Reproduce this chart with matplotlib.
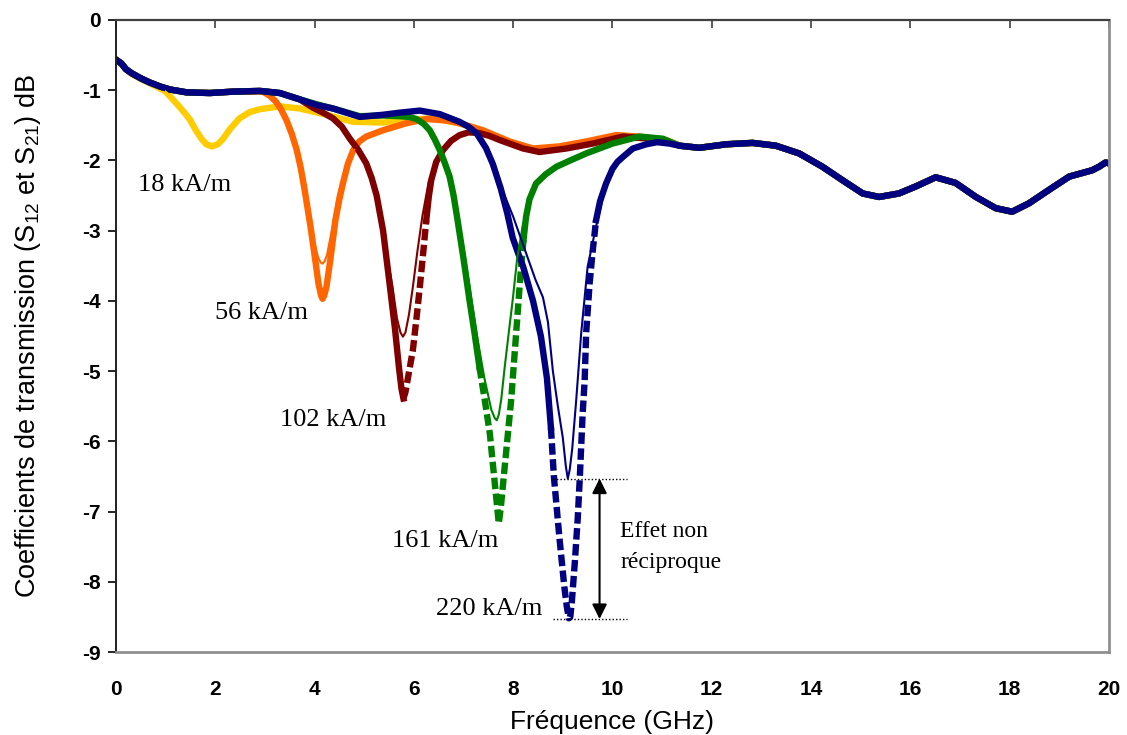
import numpy as np
import matplotlib
matplotlib.use("Agg")
import matplotlib.pyplot as plt

plt.rcParams['font.family'] = ['Liberation Sans', 'DejaVu Sans']
plt.rcParams['mathtext.fontset'] = 'custom'
plt.rcParams['mathtext.rm'] = 'Liberation Sans'
plt.rcParams['mathtext.it'] = 'Liberation Sans'
plt.rcParams['axes.unicode_minus'] = False

# shared start of the measured curves (GHz, dB)
head_x = [0.03, 0.11, 0.2, 0.32, 0.5, 0.68, 0.9, 1.09, 1.42, 1.89, 2.36, 2.9]
head_y = [-0.58, -0.62, -0.7, -0.76, -0.83, -0.89, -0.95, -0.99, -1.03, -1.04,
          -1.02, -1.01]

# common part above 11 GHz (all fields overlap)
tail_x = [11.35, 11.75, 12.29, 12.82, 13.29, 13.76, 14.23, 14.63, 15.04, 15.37,
          15.77, 16.11, 16.51, 16.91, 17.32, 17.72, 18.05, 18.39, 18.79, 19.2,
          19.66, 19.8, 19.93, 20.0]
tail_y = [-1.79, -1.82, -1.77, -1.75, -1.79, -1.90, -2.09, -2.28, -2.47, -2.52,
          -2.47, -2.37, -2.24, -2.32, -2.52, -2.68, -2.73, -2.61, -2.42, -2.23,
          -2.14, -2.09, -2.03, -2.04]

# 18 kA/m
s12_18_x = [0.03, 0.11, 0.2, 0.32, 0.5, 0.68, 0.85, 1.0, 1.22, 1.38, 1.49, 1.6,
            1.72, 1.82, 1.93, 2.05, 2.16, 2.3, 2.49, 2.7, 2.9, 3.3, 3.7, 4.24,
            4.78, 5.38, 5.92, 6.39, 6.9, 7.4, 7.93, 8.4, 8.93, 9.47, 10.07,
            10.54, 11.08]
s12_18_y = [-0.58, -0.62, -0.7, -0.77, -0.84, -0.9, -0.96, -1.02, -1.19, -1.32,
            -1.42, -1.56, -1.69, -1.77, -1.80, -1.77, -1.69, -1.55, -1.40, -1.31,
            -1.27, -1.23, -1.26, -1.35, -1.45, -1.46, -1.42, -1.40, -1.47, -1.58,
            -1.74, -1.84, -1.81, -1.74, -1.65, -1.67, -1.72]
s21_18_x = [1.0, 1.25, 1.5, 1.73, 1.84, 1.95, 2.06, 2.17, 2.5, 2.9]
s21_18_y = [-1.02, -1.2, -1.42, -1.67, -1.75, -1.77, -1.74, -1.67, -1.39, -1.26]

# 56 kA/m
s12_56_x = [2.96, 3.1, 3.23, 3.33, 3.43, 3.54, 3.64, 3.72, 3.80, 3.92, 4.02, 4.08,
            4.13, 4.16, 4.19, 4.24, 4.32, 4.42, 4.5, 4.57, 4.67, 4.78, 4.9, 5.04,
            5.38, 5.85, 6.25, 6.65, 6.92, 7.39, 7.93, 8.40, 8.93, 9.47, 10.07,
            10.54, 11.08]
s12_56_y = [-1.02, -1.08, -1.17, -1.28, -1.42, -1.62, -1.85, -2.1, -2.42, -2.95,
            -3.45, -3.76, -3.92, -3.97, -3.93, -3.8, -3.4, -2.85, -2.55, -2.33,
            -2.05, -1.85, -1.73, -1.66, -1.57, -1.47, -1.41, -1.43, -1.47, -1.57,
            -1.73, -1.83, -1.80, -1.73, -1.64, -1.66, -1.71]
s21_56_x = [3.5, 3.7, 3.85, 3.97, 4.07, 4.12, 4.16, 4.2, 4.25, 4.36, 4.47, 4.6,
            4.8]
s21_56_y = [-1.5, -2.0, -2.6, -3.1, -3.38, -3.45, -3.47, -3.44, -3.35, -2.95,
            -2.5, -2.15, -1.85]

# 102 kA/m
s12_102_x = [3.3, 3.7, 3.97, 4.17, 4.37, 4.55, 4.71, 4.88, 5.04, 5.15, 5.25,
             5.38, 5.51, 5.62, 5.70, 5.75, 5.79, 5.83, 5.88, 5.98, 6.06, 6.12,
             6.19, 6.25, 6.3, 6.35, 6.45, 6.59, 6.75, 6.92, 7.1, 7.32, 7.52,
             7.73, 8.2, 8.53, 9.07, 9.6, 10.21, 10.74, 11.1]
s12_102_y = [-1.04, -1.13, -1.25, -1.32, -1.40, -1.52, -1.69, -1.85, -2.04,
             -2.25, -2.5, -3.0, -3.75, -4.4, -4.95, -5.25, -5.39, -5.3, -5.1,
             -4.7, -4.2, -3.80, -3.3, -2.85, -2.52, -2.28, -2.02, -1.85, -1.72,
             -1.64, -1.6, -1.61, -1.65, -1.71, -1.83, -1.88, -1.83, -1.76, -1.66,
             -1.69, -1.74]
s21_102_x = [5.2, 5.35, 5.47, 5.57, 5.66, 5.73, 5.78, 5.83, 5.9, 5.98, 6.07,
             6.17, 6.3]
s21_102_y = [-2.3, -2.8, -3.4, -3.8, -4.25, -4.45, -4.51, -4.45, -4.2, -3.8,
             -3.3, -2.8, -2.3]

# 161 kA/m
s12_161_x = [3.3, 3.7, 4.04, 4.37, 4.91, 5.37, 5.71, 5.9, 6.05, 6.2, 6.32, 6.42,
             6.52, 6.62, 6.72, 6.8, 6.88, 7.0, 7.12, 7.22, 7.32, 7.43, 7.53,
             7.63, 7.68, 7.71, 7.75, 7.83, 7.96, 8.06, 8.16, 8.21, 8.26, 8.33,
             8.46, 8.65, 8.87, 9.15, 9.47, 10.0, 10.54, 11.01]
s12_161_y = [-1.04, -1.13, -1.2, -1.26, -1.37, -1.36, -1.37, -1.38, -1.41, -1.48,
             -1.57, -1.7, -1.85, -2.03, -2.23, -2.5, -2.85, -3.4, -3.99, -4.45,
             -4.94, -5.42, -5.89, -6.6, -6.95, -7.17, -6.95, -6.36, -5.41, -4.46,
             -3.51, -3.12, -2.80, -2.55, -2.33, -2.2, -2.09, -2.0, -1.90, -1.76,
             -1.66, -1.69]
s21_161_x = [6.6, 6.8, 6.95, 7.1, 7.26, 7.42, 7.56, 7.63, 7.67, 7.71, 7.76, 7.83,
             7.92, 7.99, 8.08, 8.2]
s21_161_y = [-2.0, -2.5, -3.05, -3.7, -4.46, -5.1, -5.55, -5.67, -5.70, -5.62,
             -5.4, -4.94, -4.4, -3.99, -3.4, -2.9]

# 220 kA/m
s12_220_x = [3.3, 3.7, 4.04, 4.37, 4.91, 5.37, 5.71, 6.12, 6.52, 6.92, 7.1, 7.26,
             7.45, 7.59, 7.75, 7.88, 7.99, 8.1, 8.2, 8.4, 8.56, 8.68, 8.76, 8.82,
             8.93, 9.03, 9.08, 9.12, 9.15, 9.18, 9.24, 9.30, 9.34, 9.40, 9.44,
             9.47, 9.54, 9.6, 9.67, 9.75, 9.87, 10.0, 10.1, 10.21, 10.41, 10.68,
             10.9, 11.15]
s12_220_y = [-1.04, -1.13, -1.21, -1.26, -1.38, -1.35, -1.32, -1.29, -1.34,
             -1.45, -1.52, -1.61, -1.82, -2.05, -2.4, -2.75, -3.1, -3.32, -3.51,
             -4.0, -4.51, -5.1, -5.8, -6.5, -7.36, -8.07, -8.35, -8.52, -8.5,
             -8.3, -7.74, -7.1, -6.55, -5.6, -5.13, -4.46, -3.75, -3.3, -2.85,
             -2.58, -2.33, -2.12, -2.02, -1.95, -1.83, -1.77, -1.74, -1.76]
s21_220_x = [7.6, 7.8, 8.0, 8.26, 8.45, 8.6, 8.7, 8.8, 8.9, 9.0, 9.06, 9.1, 9.14,
             9.19, 9.27, 9.37, 9.5, 9.67, 9.85]
s21_220_y = [-2.05, -2.45, -2.8, -3.32, -3.7, -3.95, -4.3, -5.0, -5.5, -5.95,
             -6.35, -6.53, -6.4, -6.1, -5.41, -4.46, -3.51, -2.94, -2.4]

fields = ['18 kA/m', '56 kA/m', '102 kA/m', '161 kA/m', '220 kA/m']
colors = ['#FFCC00', '#FF6600', '#800000', '#008000', '#000080']

s12 = [
    (s12_18_x + tail_x, s12_18_y + tail_y),
    (head_x[:-1] + s12_56_x + tail_x, head_y[:-1] + s12_56_y + tail_y),
    (head_x + s12_102_x + tail_x, head_y + s12_102_y + tail_y),
    (head_x + s12_161_x + tail_x, head_y + s12_161_y + tail_y),
    (head_x + s12_220_x + tail_x, head_y + s12_220_y + tail_y),
]
s21 = [(s21_18_x, s21_18_y), (s21_56_x, s21_56_y), (s21_102_x, s21_102_y),
       (s21_161_x, s21_161_y), (s21_220_x, s21_220_y)]
# frequency ranges where the thick trace looks dashed (sparse points on steep slopes)
dash_ranges = [None, None, (5.79, 6.25), (7.32, 8.2), (8.72, 9.67)]

fig = plt.figure(figsize=(11.27, 7.35), dpi=100)
ax = fig.add_axes([0.1029, 0.1129, 0.8811, 0.8599])

lw_thick = 4.6
for (x, y), (tx, ty), c, dr in zip(s12, s21, colors, dash_ranges):
    x = np.array(x)
    y = np.array(y)
    if dr is None:
        ax.plot(x, y, color=c, lw=lw_thick, zorder=2)
    else:
        i0 = np.searchsorted(x, dr[0])
        i1 = np.searchsorted(x, dr[1])
        ax.plot(x[:i0 + 1], y[:i0 + 1], color=c, lw=lw_thick, zorder=2)
        ax.plot(x[i0:i1 + 1], y[i0:i1 + 1], color=c, lw=lw_thick,
                ls=(0, (1.8, 0.7)), dash_capstyle='butt', zorder=2)
        ax.plot(x[i1:], y[i1:], color=c, lw=lw_thick, zorder=2)
    ax.plot(tx, ty, color=c, lw=1.5, zorder=3)

ax.set_xlim(0, 20)
ax.set_ylim(-9, 0)
ax.set_xticks(np.arange(0, 21, 2))
ax.set_yticks(np.arange(-9, 1, 1))
for lab in ax.get_xticklabels() + ax.get_yticklabels():
    lab.set_fontweight('bold')
ax.tick_params(axis='x', bottom=False, top=True, direction='in', length=6,
               width=1.2, color='#404040', labelsize=15, pad=20)
ax.tick_params(axis='y', direction='out', length=6, width=1.2, labelsize=15, pad=5)

ax.spines['left'].set_color('#202020')
ax.spines['left'].set_linewidth(1.4)
ax.spines['top'].set_color('#404040')
ax.spines['top'].set_linewidth(1.6)
ax.spines['right'].set_color('#909090')
ax.spines['right'].set_linewidth(2)
ax.spines['bottom'].set_color('#909090')
ax.spines['bottom'].set_linewidth(2)

ax.set_xlabel('Fréquence (GHz)', fontsize=19, labelpad=8)
ax.set_ylabel('Coefficients de transmission (S$_{12}$ et S$_{21}$) dB', fontsize=19.5,
              labelpad=28)

serif = ['Liberation Serif', 'DejaVu Serif']
label_pos = [(0.44, -2.35), (2.0, -4.17), (3.3, -5.7), (5.55, -7.42), (6.44, -8.39)]
for txt, (lx, ly) in zip(fields, label_pos):
    ax.text(lx, ly, txt, family=serif, fontsize=19, va='center', ha='left')

ax.text(10.16, -7.29, 'Effet non', family=serif, fontsize=17, va='center')
ax.text(10.16, -7.73, 'réciproque', family=serif, fontsize=17, va='center')

ax.plot([8.8, 10.3], [-6.53, -6.53], color='black', lw=1, ls=(0, (1, 1.5)))
ax.plot([8.8, 10.3], [-8.53, -8.53], color='black', lw=1, ls=(0, (1, 1.5)))
ax.annotate('', xy=(9.74, -6.53), xytext=(9.74, -8.53),
            arrowprops=dict(arrowstyle='<|-|>', color='black', lw=1.5,
                            mutation_scale=22, shrinkA=0, shrinkB=0))

fig.savefig('out.png', dpi=100)
